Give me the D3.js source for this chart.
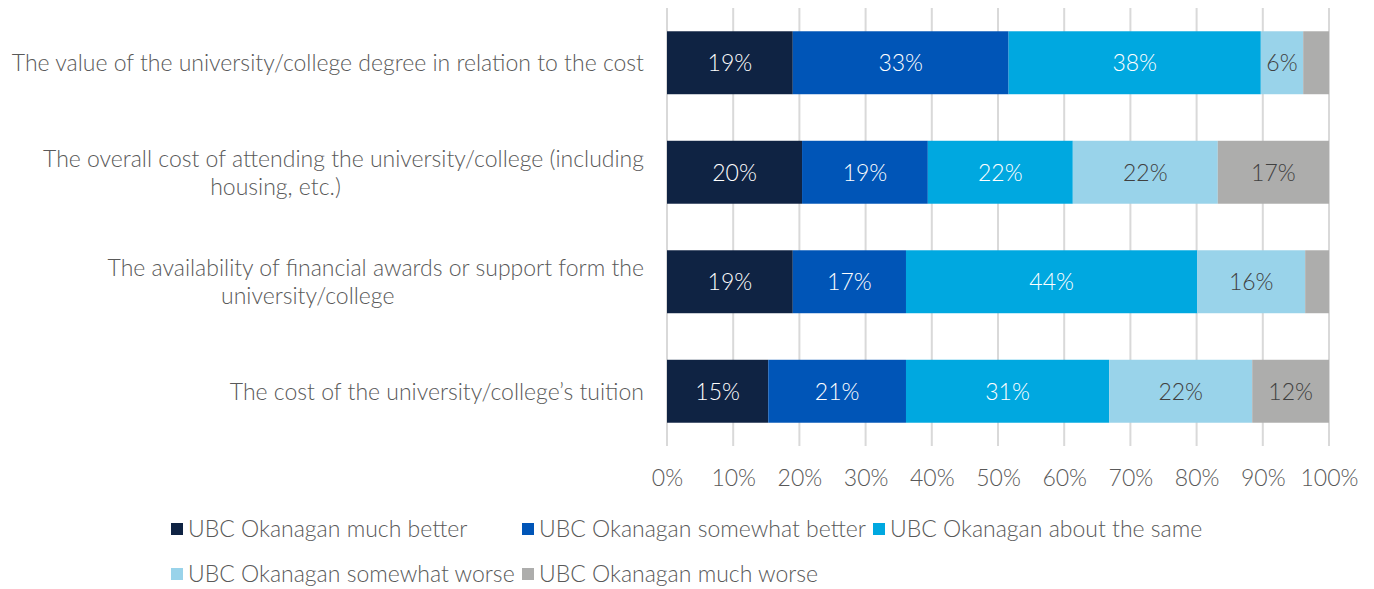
<!DOCTYPE html>
<html>
<head>
<meta charset="utf-8">
<script src="https://cdn.jsdelivr.net/npm/d3@7"></script>
<style>
  html, body { margin: 0; padding: 0; background: #fff; }
  svg { display: block; font-family: Lato, "Open Sans", sans-serif; font-weight: 300; }
</style>
</head>
<body>
<svg id="chart" width="1374" height="589"></svg>
<script>
// Survey items (top to bottom)
const categories = [
  "The value of the university/college degree in relation to the cost",
  "The overall cost of attending the university/college (including housing, etc.)",
  "The availability of financial awards or support form the university/college",
  "The cost of the university/college\u2019s tuition"
];

// Response series, percentages per item
const seriesNames = [
  "UBC Okanagan much better",
  "UBC Okanagan somewhat better",
  "UBC Okanagan about the same",
  "UBC Okanagan somewhat worse",
  "UBC Okanagan much worse"
];
const muchBetter     = [19.0, 20.4, 19.0, 15.3];
const somewhatBetter = [32.6, 19.0, 17.1, 20.8];
const aboutSame      = [38.1, 21.9, 44.0, 30.7];
const somewhatWorse  = [ 6.4, 21.9, 16.3, 21.6];
const muchWorse      = [ 3.9, 16.8,  3.6, 11.6];

const xTicks = [0, 10, 20, 30, 40, 50, 60, 70, 80, 90, 100];

const colors = ["#0f2343", "#0055b7", "#00a8e0", "#99d3ea", "#adadac"];
const labelColors = ["#ffffff", "#ffffff", "#ffffff", "#404040", "#404040"];

const seriesValues = [muchBetter, somewhatBetter, aboutSame, somewhatWorse, muchWorse];
const rows = categories.map((c, i) => {
  const r = { category: c };
  seriesNames.forEach((s, k) => { r[s] = seriesValues[k][i]; });
  return r;
});
const stacked = d3.stack().keys(seriesNames)(rows);

const svg = d3.select("#chart");
const margin = { left: 667, right: 45, top: 8, bottom: 143 };
const W = 1374, H = 589;

const x = d3.scaleLinear().domain([0, 100]).range([margin.left, W - margin.right]);
const y = d3.scaleBand().domain(categories).range([margin.top, H - margin.bottom]).paddingInner(0.425).paddingOuter(0.2125);

const fontSize = 23;
const textGrey = "#595959";

// Vertical gridlines
svg.append("g")
  .selectAll("line")
  .data(xTicks)
  .join("line")
  .attr("x1", d => x(d)).attr("x2", d => x(d))
  .attr("y1", margin.top).attr("y2", H - margin.bottom)
  .attr("stroke", "#d9d9d9")
  .attr("stroke-width", 2);

// X axis tick labels
const xAxis = d3.axisBottom(x).tickValues(xTicks).tickSize(0).tickPadding(0).tickFormat(d => d + "%");
const xg = svg.append("g").attr("transform", `translate(0,${H - margin.bottom + 40})`).call(xAxis);
xg.select(".domain").remove();
xg.selectAll("text")
  .attr("font-size", fontSize)
  .attr("font-family", "Lato, 'Open Sans', sans-serif")
  .attr("font-weight", 300)
  .attr("fill", textGrey)
  .attr("dy", "0");

// Stacked bars
const layers = svg.append("g")
  .selectAll("g")
  .data(stacked)
  .join("g")
  .attr("fill", (d, i) => colors[i]);

layers.selectAll("rect")
  .data(d => d)
  .join("rect")
  .attr("x", d => x(d[0]))
  .attr("width", d => x(d[1]) - x(d[0]))
  .attr("y", d => y(d.data.category))
  .attr("height", y.bandwidth());

// Segment value labels (omitted for very small slices)
layers.each(function(layer, i) {
  d3.select(this).selectAll("text")
    .data(layer.filter(d => d[1] - d[0] >= 5))
    .join("text")
    .attr("x", d => (x(d[0]) + x(d[1])) / 2)
    .attr("y", d => y(d.data.category) + y.bandwidth() / 2)
    .attr("dy", "0.36em")
    .attr("text-anchor", "middle")
    .attr("font-size", fontSize)
    .attr("fill", labelColors[i])
    .text(d => Math.round(d[1] - d[0]) + "%");
});

// Category labels, wrapped
const labelRight = margin.left - 23;
const wrapWidth = 650;
const lineHeight = 28;
const catG = svg.append("g");
categories.forEach(cat => {
  const t = catG.append("text")
    .attr("font-size", fontSize)
    .attr("fill", textGrey);
  const words = cat.split(" ");
  const lines = [];
  let line = [];
  const probe = t.append("tspan");
  words.forEach(w => {
    line.push(w);
    probe.text(line.join(" "));
    if (probe.node().getComputedTextLength() > wrapWidth && line.length > 1) {
      line.pop();
      lines.push(line.join(" "));
      line = [w];
    }
  });
  lines.push(line.join(" "));
  probe.remove();

  const cy = y(cat) + y.bandwidth() / 2;
  const y0 = cy - (lines.length - 1) * lineHeight / 2;
  let firstWidth = 0;
  lines.forEach((ln, j) => {
    const ts = t.append("tspan").text(ln).attr("y", y0 + j * lineHeight).attr("dy", "0.36em");
    if (j === 0) {
      ts.attr("x", labelRight).attr("text-anchor", "end");
      firstWidth = ts.node().getComputedTextLength();
    } else {
      ts.attr("x", labelRight - firstWidth / 2 - 68).attr("text-anchor", "middle");
    }
  });
});

// Legend
const legendLeft = 171, colW = 351, rowY = [529, 574];
const legend = svg.append("g");
seriesNames.forEach((s, i) => {
  const col = i < 3 ? i : i - 3;
  const row = i < 3 ? 0 : 1;
  const g = legend.append("g").attr("transform", `translate(${legendLeft + col * colW},${rowY[row]})`);
  g.append("rect").attr("x", 0).attr("y", -6).attr("width", 12).attr("height", 12).attr("fill", colors[i]);
  g.append("text").attr("x", 17).attr("y", 0).attr("dy", "0.36em")
    .attr("font-size", fontSize).attr("fill", textGrey).text(s);
});
</script>
</body>
</html>
